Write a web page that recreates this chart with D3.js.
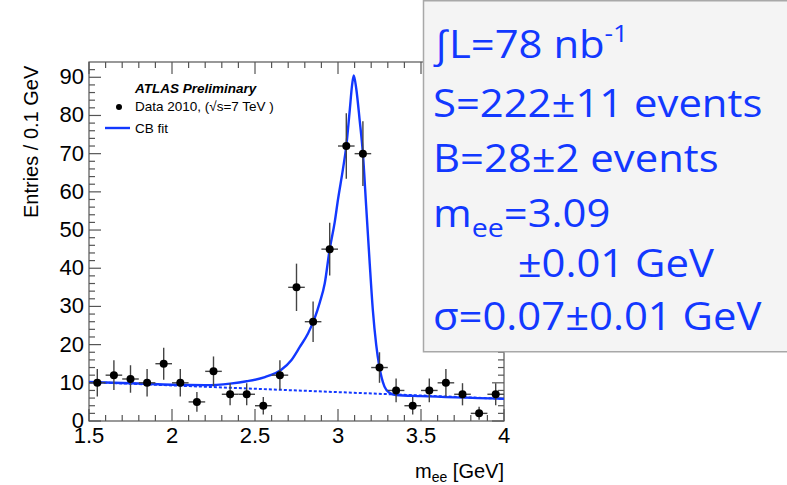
<!DOCTYPE html>
<html>
<head>
<meta charset="utf-8">
<script src="https://cdn.jsdelivr.net/npm/d3@7"></script>
<style>
  body { margin: 0; background: #fff; }
  svg { display: block; }
</style>
</head>
<body>
<svg id="drawing_region"></svg>
<script>
// bin centres (GeV), entries per 0.1 GeV and their errors
const bin_centers = [1.55, 1.65, 1.75, 1.85, 1.95, 2.05, 2.15, 2.25, 2.35, 2.45, 2.55, 2.65, 2.75,
                     2.85, 2.95, 3.05, 3.15, 3.25, 3.35, 3.45, 3.55, 3.65, 3.75, 3.85, 3.95];
const entries = [10, 12, 11, 10, 15, 10, 5, 13, 7, 7, 4, 12, 35, 26, 45, 72, 70, 14, 8, 4, 8, 10, 7, 2, 7];
const entry_errors = [3.6, 3.9, 3.6, 3.6, 4.2, 3.6, 2.6, 3.9, 2.9, 2.9, 2.3, 3.9, 6.2, 5.3,
                      6.9, 8.6, 8.5, 4.0, 3.1, 2.3, 3.1, 3.6, 2.9, 1.7, 2.9];

// CB fit curve (solid) and background (dashed)
const fit_mass = [1.5, 1.8, 2.0, 2.2, 2.35, 2.45, 2.56, 2.66, 2.72, 2.77, 2.82, 2.86, 2.89, 2.92, 2.95,
                  2.98, 3.0, 3.03, 3.05, 3.07, 3.085, 3.095, 3.11, 3.13, 3.15, 3.17, 3.19, 3.21, 3.23,
                  3.25, 3.28, 3.31, 3.35, 3.5, 4.0];
const fit_value = [10.2, 9.8, 9.5, 9.4, 9.8, 10.4, 11.5, 13.5, 16, 19.4, 23, 27, 31, 36, 45,
                   52, 58, 66, 72, 81, 88, 90.5, 87, 79, 70, 56, 42, 29, 20,
                   14, 9, 7.4, 6.8, 6.5, 5.8];
const bkg_mass = [1.5, 4.0];
const bkg_value = [10.2, 5.8];

const x_ticks = [1.5, 2, 2.5, 3, 3.5, 4];
const y_ticks = [0, 10, 20, 30, 40, 50, 60, 70, 80, 90];

const fit_info = ["S=222±11 events", "B=28±2 events"];

const W = 787, H = 485;
const margin = {top: 62, right: 283, bottom: 64, left: 89};
const inner_width = W - margin.left - margin.right;
const inner_height = H - margin.top - margin.bottom;
const blue = '#1238ff';
const sans = 'Liberation Sans, Arial, sans-serif';

const svg = d3.select('#drawing_region')
    .attr('width', W)
    .attr('height', H)
    .style('font-family', sans);

svg.append('rect').attr('width', W).attr('height', H).attr('fill', '#fff');

const chart = svg.append('g')
    .attr('transform', `translate(${margin.left}, ${margin.top})`);

const xscale = d3.scaleLinear().domain([1.5, 4]).range([0, inner_width]);
const yscale = d3.scaleLinear().domain([0, 94]).range([inner_height, 0]);

// ROOT-like ticks on all four sides, pointing inwards
const x_minor = d3.range(1.5, 4.0001, 0.1);
const y_minor = d3.range(0, 94, 2);
const tick_col = '#555';

const frame = chart.append('g');
frame.append('rect')
    .attr('width', inner_width).attr('height', inner_height)
    .attr('fill', 'none').attr('stroke', tick_col).attr('stroke-width', 1.2);

const isMajorX = v => Math.abs(v * 2 - Math.round(v * 2)) < 1e-6;
const isMajorY = v => v % 10 === 0;

frame.selectAll('.xt').data(x_minor).join('g').each(function (v) {
    const g = d3.select(this);
    const len = isMajorX(v) ? 12 : 6;
    const x = xscale(v);
    g.append('line').attr('x1', x).attr('x2', x).attr('y1', inner_height).attr('y2', inner_height - len);
    g.append('line').attr('x1', x).attr('x2', x).attr('y1', 0).attr('y2', len);
}).attr('stroke', tick_col).attr('stroke-width', 1.2);

frame.selectAll('.yt').data(y_minor).join('g').each(function (v) {
    const g = d3.select(this);
    const len = isMajorY(v) ? 12 : 6;
    const y = yscale(v);
    g.append('line').attr('x1', 0).attr('x2', len).attr('y1', y).attr('y2', y);
    g.append('line').attr('x1', inner_width).attr('x2', inner_width - len).attr('y1', y).attr('y2', y);
}).attr('stroke', tick_col).attr('stroke-width', 1.2);

// tick labels
chart.append('g').selectAll('text').data(x_ticks).join('text')
    .attr('x', d => xscale(d))
    .attr('y', inner_height + 22)
    .attr('text-anchor', 'middle')
    .attr('font-size', 22)
    .text(d => d);

chart.append('g').selectAll('text').data(y_ticks).join('text')
    .attr('x', -5)
    .attr('y', d => yscale(d) + 7)
    .attr('text-anchor', 'end')
    .attr('font-size', 22)
    .text(d => d);

// axis titles
svg.append('text')
    .attr('transform', 'translate(38, 218) rotate(-90)')
    .attr('font-size', 20)
    .text('Entries / 0.1 GeV');

const xt = svg.append('text')
    .attr('x', 504).attr('y', 478)
    .attr('text-anchor', 'end')
    .attr('font-size', 20);
xt.append('tspan').text('m');
xt.append('tspan').attr('font-size', 14).attr('dy', 4).text('ee');
xt.append('tspan').attr('dy', -4).text(' [GeV]');

// background and fit
const line = d3.line().x(d => xscale(d[0])).y(d => yscale(d[1]));

chart.append('path')
    .datum(d3.zip(bkg_mass, bkg_value))
    .attr('d', line)
    .attr('fill', 'none')
    .attr('stroke', blue)
    .attr('stroke-width', 2)
    .attr('stroke-dasharray', '3,2');

chart.append('path')
    .datum(d3.zip(fit_mass, fit_value))
    .attr('d', line.curve(d3.curveMonotoneX))
    .attr('fill', 'none')
    .attr('stroke', blue)
    .attr('stroke-width', 2.4);

// data points
const pts = chart.append('g').selectAll('g')
    .data(d3.zip(bin_centers, entries, entry_errors))
    .join('g');

pts.append('line')
    .attr('x1', d => xscale(d[0] - 0.05)).attr('x2', d => xscale(d[0] + 0.05))
    .attr('y1', d => yscale(d[1])).attr('y2', d => yscale(d[1]))
    .attr('stroke', '#444').attr('stroke-width', 1.4);
pts.append('line')
    .attr('x1', d => xscale(d[0])).attr('x2', d => xscale(d[0]))
    .attr('y1', d => yscale(Math.max(0, d[1] - d[2]))).attr('y2', d => yscale(d[1] + d[2]))
    .attr('stroke', '#444').attr('stroke-width', 1.4);
pts.append('circle')
    .attr('cx', d => xscale(d[0])).attr('cy', d => yscale(d[1]))
    .attr('r', 4).attr('fill', '#000');

// legend
const legend = svg.append('g').attr('font-size', 13.5);
legend.append('text')
    .attr('x', 135).attr('y', 93)
    .attr('font-weight', 'bold').attr('font-style', 'italic')
    .text('ATLAS Preliminary');
legend.append('circle').attr('cx', 119).attr('cy', 107).attr('r', 3).attr('fill', '#000');
legend.append('text').attr('x', 135).attr('y', 111).text('Data 2010, (√s=7 TeV )');
legend.append('line')
    .attr('x1', 105).attr('x2', 130).attr('y1', 128).attr('y2', 128)
    .attr('stroke', blue).attr('stroke-width', 2.4);
legend.append('text').attr('x', 135).attr('y', 133).text('CB fit');

// fit result box
svg.append('rect')
    .attr('x', 423.5).attr('y', 0.75).attr('width', 380).attr('height', 351)
    .attr('fill', '#f4f4f4').attr('stroke', '#a8a8a8').attr('stroke-width', 1.5);

const box = svg.append('g')
    .attr('transform', 'translate(433, 0) scale(1.1, 1)')
    .style('font-family', 'Open Sans, Noto Sans, sans-serif')
    .attr('fill', blue);

const fs = 38;
const t1 = box.append('text').attr('x', 0).attr('y', 58).attr('font-size', fs);
t1.append('tspan').text('∫L=78 nb');
t1.append('tspan').attr('font-size', 24).attr('dy', -16).text('-1');

fit_info.forEach((s, i) => {
    box.append('text').attr('x', 0).attr('y', 117 + i * 55)
        .attr('font-size', fs).text(s);
});

const t4 = box.append('text').attr('x', 0).attr('y', 227).attr('font-size', fs);
t4.append('tspan').text('m');
t4.append('tspan').attr('font-size', 26).attr('dy', 10).text('ee');
t4.append('tspan').attr('dy', -10).text('=3.09');

box.append('text').attr('x', 77).attr('y', 277)
    .attr('font-size', fs).text('±0.01 GeV');
box.append('text').attr('x', 0).attr('y', 330)
    .attr('font-size', fs).text('σ=0.07±0.01 GeV');
</script>
</body>
</html>
